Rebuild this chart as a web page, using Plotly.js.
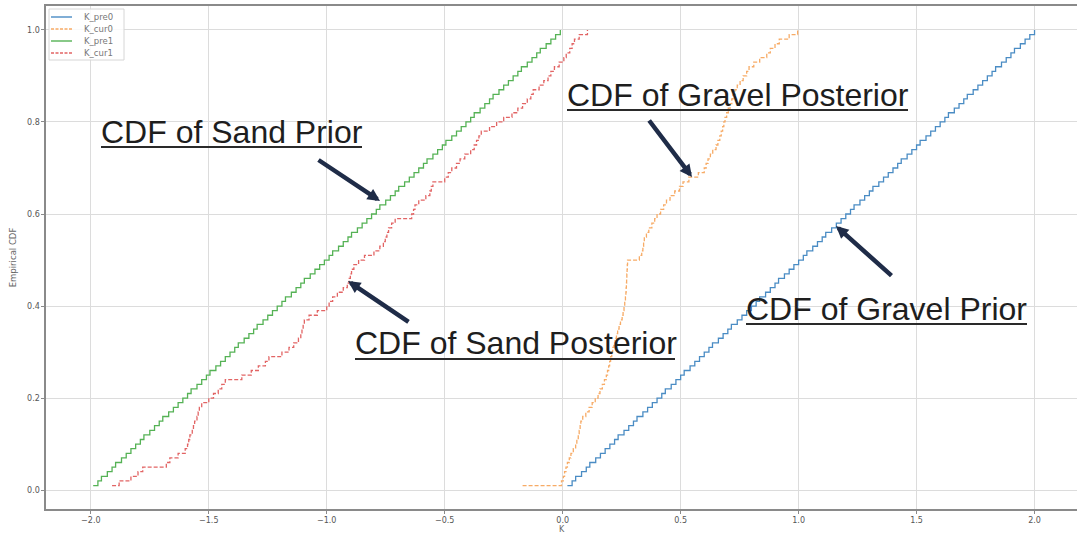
<!DOCTYPE html>
<html>
<head>
<meta charset="utf-8">
<script src="https://cdn.plot.ly/plotly-3.0.1.min.js"></script>
<style>
html,body{margin:0;padding:0;background:#fff;}
#chart{width:1077px;height:535px;}
</style>
</head>
<body>
<div id="chart"></div>
<script>
// Sorted sample values
const seriesNames = ["K_pre0", "K_cur0", "K_pre1", "K_cur1"];

const K_pre0 = [
  0.02,0.04,0.055,0.08,0.10,0.115,0.14,0.16,0.18,0.20,
  0.22,0.235,0.26,0.28,0.30,0.315,0.34,0.36,0.38,0.40,
  0.42,0.435,0.46,0.48,0.50,0.515,0.54,0.56,0.58,0.60,
  0.62,0.635,0.66,0.68,0.70,0.715,0.74,0.76,0.78,0.80,
  0.82,0.835,0.86,0.88,0.90,0.915,0.94,0.96,0.98,1.00,
  1.02,1.035,1.06,1.08,1.10,1.115,1.14,1.16,1.18,1.20,
  1.22,1.235,1.26,1.28,1.30,1.315,1.34,1.36,1.38,1.40,
  1.42,1.435,1.46,1.48,1.50,1.515,1.54,1.56,1.58,1.60,
  1.62,1.635,1.66,1.68,1.70,1.715,1.74,1.76,1.78,1.80,
  1.82,1.835,1.86,1.88,1.90,1.915,1.94,1.96,1.98,2.00
];

const K_cur0 = [
  -0.17,-0.005,0.003,0.008,0.014,0.02,0.028,0.035,0.045,0.055,
  0.06,0.066,0.07,0.074,0.077,0.085,0.098,0.112,0.125,0.138,
  0.15,0.158,0.168,0.177,0.185,0.19,0.195,0.199,0.203,0.208,
  0.212,0.217,0.222,0.228,0.233,0.239,0.245,0.252,0.256,0.26,
  0.263,0.266,0.268,0.269,0.27,0.271,0.272,0.273,0.274,0.275,
  0.325,0.335,0.34,0.343,0.346,0.355,0.365,0.378,0.39,0.40,
  0.415,0.428,0.44,0.455,0.475,0.495,0.51,0.535,0.575,0.60,
  0.608,0.616,0.626,0.636,0.65,0.658,0.666,0.672,0.678,0.683,
  0.688,0.695,0.702,0.71,0.717,0.722,0.73,0.74,0.752,0.765,
  0.78,0.79,0.81,0.835,0.865,0.88,0.90,0.918,0.96,0.996
];

const K_pre1 = [
  -1.99,-1.97,-1.955,-1.93,-1.91,-1.895,-1.87,-1.85,-1.83,-1.81,
  -1.79,-1.775,-1.75,-1.73,-1.71,-1.695,-1.67,-1.65,-1.63,-1.61,
  -1.59,-1.575,-1.55,-1.53,-1.51,-1.495,-1.47,-1.45,-1.43,-1.41,
  -1.39,-1.375,-1.35,-1.33,-1.31,-1.295,-1.27,-1.25,-1.23,-1.21,
  -1.19,-1.175,-1.15,-1.13,-1.11,-1.095,-1.07,-1.05,-1.03,-1.01,
  -0.99,-0.975,-0.95,-0.93,-0.91,-0.895,-0.87,-0.85,-0.83,-0.81,
  -0.79,-0.775,-0.75,-0.73,-0.71,-0.695,-0.67,-0.65,-0.63,-0.61,
  -0.59,-0.575,-0.55,-0.53,-0.51,-0.495,-0.47,-0.45,-0.43,-0.41,
  -0.39,-0.375,-0.35,-0.33,-0.31,-0.295,-0.27,-0.25,-0.23,-0.21,
  -0.19,-0.175,-0.15,-0.13,-0.11,-0.095,-0.07,-0.05,-0.03,-0.01
];

const K_cur1 = [
  -1.91,-1.88,-1.83,-1.80,-1.78,-1.68,-1.665,-1.63,-1.60,-1.59,
  -1.585,-1.58,-1.57,-1.565,-1.56,-1.55,-1.545,-1.54,-1.53,-1.50,
  -1.48,-1.46,-1.445,-1.43,-1.36,-1.32,-1.29,-1.26,-1.245,-1.19,
  -1.16,-1.14,-1.12,-1.11,-1.105,-1.10,-1.095,-1.075,-1.04,-1.00,
  -0.99,-0.975,-0.955,-0.93,-0.913,-0.905,-0.90,-0.895,-0.885,-0.865,
  -0.84,-0.80,-0.775,-0.76,-0.752,-0.745,-0.738,-0.725,-0.71,-0.64,
  -0.632,-0.626,-0.61,-0.58,-0.563,-0.557,-0.55,-0.50,-0.485,-0.47,
  -0.45,-0.435,-0.415,-0.39,-0.375,-0.365,-0.355,-0.345,-0.31,-0.28,
  -0.25,-0.215,-0.19,-0.17,-0.15,-0.135,-0.125,-0.10,-0.08,-0.062,
  -0.05,-0.035,-0.015,0.005,0.015,0.03,0.04,0.05,0.07,0.105
];

const xTickVals = [-2.0,-1.5,-1.0,-0.5,0.0,0.5,1.0,1.5,2.0];
const xTickText = ["\u22122.0","\u22121.5","\u22121.0","\u22120.5","0.0","0.5","1.0","1.5","2.0"];
const yTickVals = [0.0,0.2,0.4,0.6,0.8,1.0];
const yTickText = ["0.0","0.2","0.4","0.6","0.8","1.0"];

const annotationTexts = ["CDF of Sand Prior","CDF of Gravel Posterior","CDF of Sand Posterior","CDF of Gravel Prior"];

// ---- figure construction ----
const W = 1077, H = 535;
const M = {l: 46, r: 0, t: 6, b: 26};
const PW = W - M.l - M.r, PH = H - M.t - M.b;
const px = v => (v - M.l) / PW;
const py = v => (H - M.b - v) / PH;

const colors = ["#4a8cc4", "#f7ab66", "#55b255", "#e26464"];
const dashes = ["solid", "4px,2px", "solid", "4px,2px"];

function ecdfTrace(vals, k) {
  const xs = vals.slice().sort((a, b) => a - b);
  const ys = xs.map((_, i) => (i + 1) / xs.length);
  return {
    x: xs, y: ys, name: seriesNames[k], type: "scatter", mode: "lines",
    line: {shape: "hv", color: colors[k], width: 1.3, dash: dashes[k]}
  };
}

const traces = [
  ecdfTrace(K_pre0, 0),
  ecdfTrace(K_cur0, 1),
  ecdfTrace(K_pre1, 2),
  ecdfTrace(K_cur1, 3)
];

const annotations = [];
const shapes = [];

// label boxes (pixel): left, baseline, right, underline y
const labels = [
  {t: annotationTexts[0], l: 101, base: 143, r: 362, u: 147},
  {t: annotationTexts[1], l: 567, base: 106, r: 908, u: 110},
  {t: annotationTexts[2], l: 355, base: 354, r: 675, u: 359},
  {t: annotationTexts[3], l: 746, base: 320, r: 1027, u: 324}
];
const FS = 32;
labels.forEach(o => {
  annotations.push({
    xref: "paper", yref: "paper", x: px(o.l - 2), y: py(o.base - FS * 0.347),
    xanchor: "left", yanchor: "middle", showarrow: false, text: o.t,
    font: {family: "Liberation Sans, Arial, sans-serif", size: FS, color: "#1e1e1e"}
  });
  shapes.push({
    type: "line", xref: "paper", yref: "paper",
    x0: px(o.l), x1: px(o.r), y0: py(o.u), y1: py(o.u),
    line: {color: "#2a2a2a", width: 2}
  });
});

// arrows (pixel): tail -> head
const arrows = [
  {tx: 317, ty: 159, hx: 380, hy: 201},
  {tx: 410, ty: 323, hx: 348, hy: 281},
  {tx: 648, ty: 119, hx: 692, hy: 177},
  {tx: 893, ty: 277, hx: 836, hy: 226}
];
arrows.forEach(a => {
  annotations.push({
    xref: "paper", yref: "paper", x: px(a.hx), y: py(a.hy),
    axref: "pixel", ayref: "pixel", ax: a.tx - a.hx, ay: a.ty - a.hy,
    text: "", showarrow: true, arrowhead: 2, arrowsize: 0.55, arrowwidth: 4.5,
    arrowcolor: "#1f2c48"
  });
});

// compact legend box (matplotlib style)
const LG = {l: 49, t: 9, r: 124, b: 60, rowY: [17, 29, 41, 53], x0: 51, x1: 72, tx: 82};
shapes.push({
  type: "rect", xref: "paper", yref: "paper",
  x0: px(LG.l), x1: px(LG.r), y0: py(LG.b), y1: py(LG.t),
  fillcolor: "rgba(255,255,255,0.85)", line: {color: "#d6d6d6", width: 1}
});
seriesNames.forEach((nm, k) => {
  shapes.push({
    type: "line", xref: "paper", yref: "paper",
    x0: px(LG.x0), x1: px(LG.x1), y0: py(LG.rowY[k]), y1: py(LG.rowY[k]),
    line: {color: colors[k], width: 1.4, dash: dashes[k] === "solid" ? "solid" : "3px,1.5px"}
  });
  annotations.push({
    xref: "paper", yref: "paper", x: px(LG.tx), y: py(LG.rowY[k]),
    xanchor: "left", yanchor: "middle", showarrow: false, text: nm,
    font: {family: "DejaVu Sans, sans-serif", size: 8.5, color: "#777"}
  });
});

const tickFont = {family: "DejaVu Sans, sans-serif", size: 8, color: "#555"};

const layout = {
  width: W, height: H,
  margin: M,
  paper_bgcolor: "#ffffff", plot_bgcolor: "#ffffff",
  showlegend: false,
  xaxis: {
    range: [-2.19, 2.18], tickvals: xTickVals, ticktext: xTickText,
    showgrid: true, gridcolor: "#dcdcdc", gridwidth: 1, zeroline: false,
    showline: true, linecolor: "#8a8a8a", linewidth: 1.6, mirror: true,
    ticks: "outside", ticklen: 3, tickcolor: "#8a8a8a", tickfont: tickFont,
    title: {text: "K", font: {family: "DejaVu Sans, sans-serif", size: 8, color: "#666"}, standoff: 2}
  },
  yaxis: {
    range: [-0.041, 1.052], tickvals: yTickVals, ticktext: yTickText,
    showgrid: true, gridcolor: "#dcdcdc", gridwidth: 1, zeroline: false,
    showline: true, linecolor: "#8a8a8a", linewidth: 1.6, mirror: false,
    ticks: "outside", ticklen: 3, tickcolor: "#8a8a8a", tickfont: tickFont,
    title: {text: "Empirical CDF", font: {family: "DejaVu Sans, sans-serif", size: 8.5, color: "#666"}, standoff: 9}
  },
  annotations: annotations,
  shapes: shapes
};

Plotly.newPlot("chart", traces, layout, {displayModeBar: false, staticPlot: true});
</script>
</body>
</html>
